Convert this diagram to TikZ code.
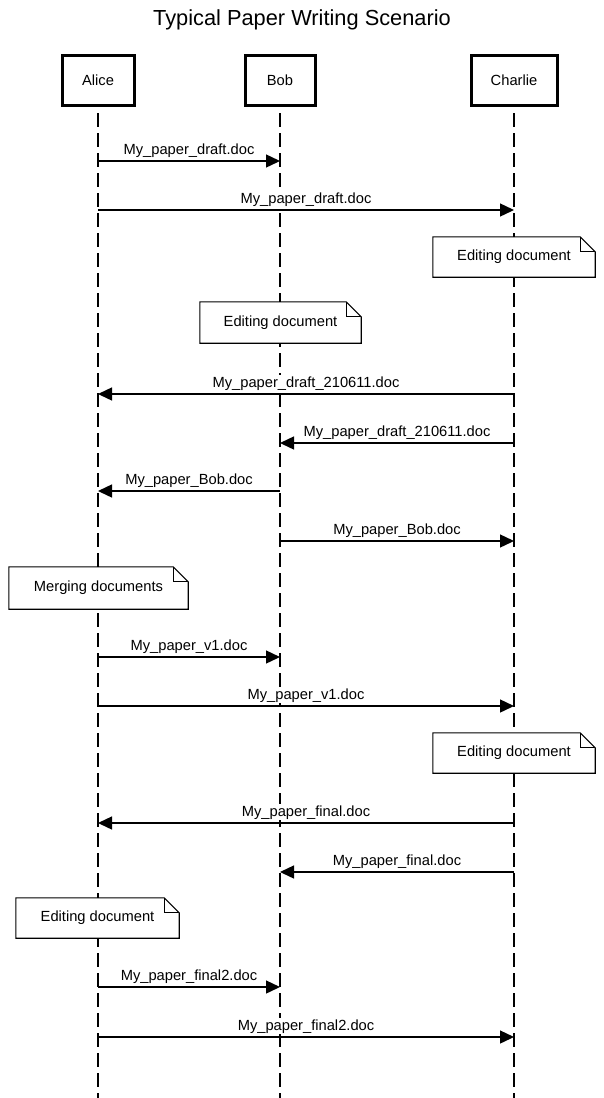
\documentclass[tikz,border=0pt]{standalone}
\usepackage{fontspec}
\setmainfont{Liberation Sans}
\usetikzlibrary{arrows.meta}
\begin{document}
\begin{tikzpicture}[x=1pt,y=-1pt,
  txt/.style={font=\fontsize{14.7}{17}\selectfont},
  actor/.style={txt,draw,line width=3pt,fill=white,minimum height=50pt,inner sep=0pt},
  lifeline/.style={line width=1.4pt,dash pattern=on 14pt off 6pt},
  msg/.style={line width=1.4pt,-{Triangle[length=14pt,width=13pt]}},
  msglabel/.style={txt,fill=white,inner sep=1pt,midway,anchor=base,yshift=7pt},
  notebox/.style={txt,fill=white,inner sep=0pt},
  noteline/.style={line width=1.1pt,line join=miter},
]
\fill[white] (0,0) rectangle (604,1098);
\useasboundingbox (0,0) rectangle (604,1098);

% title
\node[font=\fontsize{21.8}{26}\selectfont] (title) at (302,20) {Typical Paper Writing Scenario};

% participants and their lifelines
\coordinate (aliceEnd) at (98,1098);
\coordinate (bobEnd) at (280,1098);
\coordinate (charlieEnd) at (514,1098);
\coordinate (aliceTop) at (98,93);
\coordinate (bobTop) at (280,93);
\coordinate (charlieTop) at (514,93);
\draw[lifeline] (aliceTop) -- (aliceEnd);
\draw[lifeline] (bobTop) -- (bobEnd);
\draw[lifeline] (charlieTop) -- (charlieEnd);
\node[actor,minimum width=72pt] (alice) at (98,80.5) {Alice};
\node[actor,minimum width=70pt] (bob) at (280,80.5) {Bob};
\node[actor,minimum width=86pt] (charlie) at (514,80.5) {Charlie};

% folded-corner note: #1 name
\newcommand\notefold[1]{%
  \draw[noteline] (#1.north west) -- ([xshift=-15pt]#1.north east)
    -- ([yshift=-15pt]#1.north east) -- (#1.south east) -- (#1.south west) -- cycle;
  \draw[noteline] ([xshift=-15pt]#1.north east) -- ([xshift=-15pt,yshift=-15pt]#1.north east)
    -- ([yshift=-15pt]#1.north east);
}

% messages
\coordinate (m1s) at (98,161);   \coordinate (m1e) at (280,161);
\draw[msg] (m1s) -- node[msglabel] {My\_paper\_draft.doc} (m1e);
\coordinate (m2s) at (98,210);   \coordinate (m2e) at (514,210);
\draw[msg] (m2s) -- node[msglabel] {My\_paper\_draft.doc} (m2e);

\node[notebox,minimum width=162pt,minimum height=40pt] (n1) at (514,257) {Editing document};
\notefold{n1}
\node[notebox,minimum width=161pt,minimum height=41pt] (n2) at (280.5,322.5) {Editing document};
\notefold{n2}

\coordinate (m3s) at (514,394);  \coordinate (m3e) at (98,394);
\draw[msg] (m3s) -- node[msglabel] {My\_paper\_draft\_210611.doc} (m3e);
\coordinate (m4s) at (514,443);  \coordinate (m4e) at (280,443);
\draw[msg] (m4s) -- node[msglabel] {My\_paper\_draft\_210611.doc} (m4e);
\coordinate (m5s) at (280,491);  \coordinate (m5e) at (98,491);
\draw[msg] (m5s) -- node[msglabel] {My\_paper\_Bob.doc} (m5e);
\coordinate (m6s) at (280,541);  \coordinate (m6e) at (514,541);
\draw[msg] (m6s) -- node[msglabel] {My\_paper\_Bob.doc} (m6e);

\node[notebox,minimum width=179pt,minimum height=42pt] (n3) at (98.5,588) {Merging documents};
\notefold{n3}

\coordinate (m7s) at (98,657);   \coordinate (m7e) at (280,657);
\draw[msg] (m7s) -- node[msglabel] {My\_paper\_v1.doc} (m7e);
\coordinate (m8s) at (98,706);   \coordinate (m8e) at (514,706);
\draw[msg] (m8s) -- node[msglabel] {My\_paper\_v1.doc} (m8e);

\node[notebox,minimum width=162pt,minimum height=40pt] (n4) at (514,753) {Editing document};
\notefold{n4}

\coordinate (m9s) at (514,823);  \coordinate (m9e) at (98,823);
\draw[msg] (m9s) -- node[msglabel] {My\_paper\_final.doc} (m9e);
\coordinate (m10s) at (514,872); \coordinate (m10e) at (280,872);
\draw[msg] (m10s) -- node[msglabel] {My\_paper\_final.doc} (m10e);

\node[notebox,minimum width=163pt,minimum height=40pt] (n5) at (97.5,918) {Editing document};
\notefold{n5}

\coordinate (m11s) at (98,987);  \coordinate (m11e) at (280,987);
\draw[msg] (m11s) -- node[msglabel] {My\_paper\_final2.doc} (m11e);
\coordinate (m12s) at (98,1037); \coordinate (m12e) at (514,1037);
\draw[msg] (m12s) -- node[msglabel] {My\_paper\_final2.doc} (m12e);
\end{tikzpicture}
\end{document}
